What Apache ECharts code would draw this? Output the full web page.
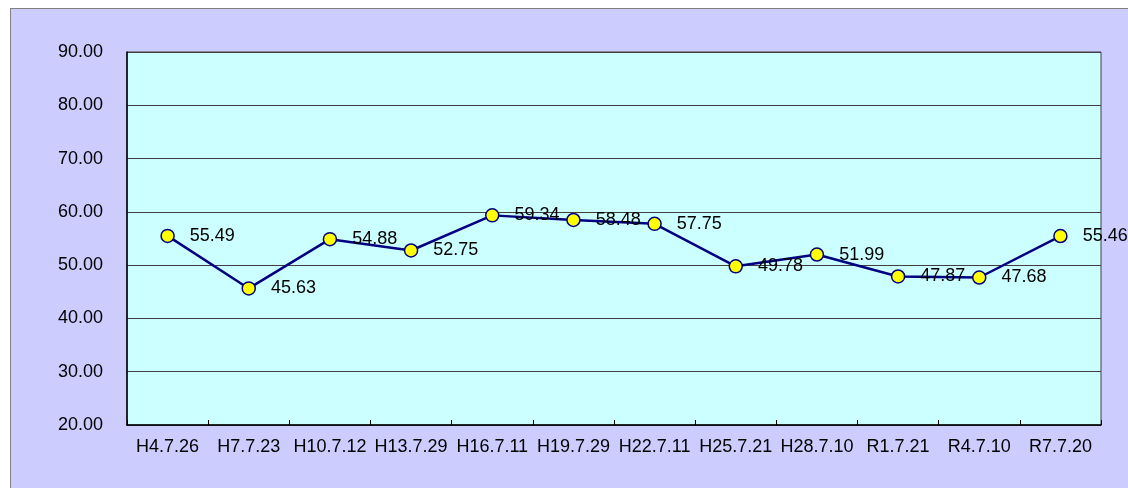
<!DOCTYPE html>
<html>
<head>
<meta charset="utf-8">
<script src="https://cdn.jsdelivr.net/npm/echarts@6/dist/echarts.min.js"></script>
<style>
  html, body { margin: 0; padding: 0; background: #fff; overflow: hidden; }
  #frame {
    position: absolute; left: 10px; top: 8px; width: 1130px; height: 490px;
    background: #CCCCFF; border-left: 1px solid #7f7f7f; border-top: 1px solid #7f7f7f;
  }
  #chart { width: 1130px; height: 490px; }
</style>
</head>
<body>
<div id="frame"><div id="chart"></div></div>
<script>
  // 調査日
  var dates = ['H4.7.26', 'H7.7.23', 'H10.7.12', 'H13.7.29', 'H16.7.11', 'H19.7.29',
               'H22.7.11', 'H25.7.21', 'H28.7.10', 'R1.7.21', 'R4.7.10', 'R7.7.20'];
  // 値
  var values = [55.49, 45.63, 54.88, 52.75, 59.34, 58.48, 57.75, 49.78, 51.99, 47.87, 47.68, 55.46];
  var yMin = 20, yMax = 90, yStep = 10;

  var chart = echarts.init(document.getElementById('chart'));
  var font = '"Liberation Sans", Arial, sans-serif';

  chart.setOption({
    backgroundColor: 'transparent',
    animation: false,
    grid: {
      left: 116, top: 43, width: 974, height: 373,
      show: true, backgroundColor: '#CCFFFF', borderColor: '#404040', borderWidth: 1
    },
    xAxis: {
      type: 'category',
      data: dates,
      boundaryGap: true,
      axisLine: { lineStyle: { color: '#000', width: 1.5 } },
      axisTick: { show: true, inside: true, length: 5, lineStyle: { color: '#000' } },
      axisLabel: { color: '#000', fontFamily: font, fontSize: 18, margin: 13, interval: 0 }
    },
    yAxis: {
      type: 'value',
      min: yMin, max: yMax, interval: yStep,
      axisLine: { show: true, lineStyle: { color: '#000', width: 1.5 } },
      axisTick: { show: false },
      splitLine: { lineStyle: { color: '#404040', width: 1 } },
      axisLabel: {
        color: '#000', fontFamily: font, fontSize: 18, margin: 24,
        formatter: function(v) { return v.toFixed(2); }
      }
    },
    series: [{
      type: 'line',
      data: values,
      symbol: 'circle',
      symbolSize: 13,
      lineStyle: { color: '#000080', width: 2.5 },
      itemStyle: { color: '#FFFF00', borderColor: '#000080', borderWidth: 1.5 },
      label: {
        show: true, position: 'right', distance: 15,
        color: '#000', fontFamily: font, fontSize: 18,
        formatter: function(p) { return p.value.toFixed(2); }
      }
    }]
  });
</script>
</body>
</html>
